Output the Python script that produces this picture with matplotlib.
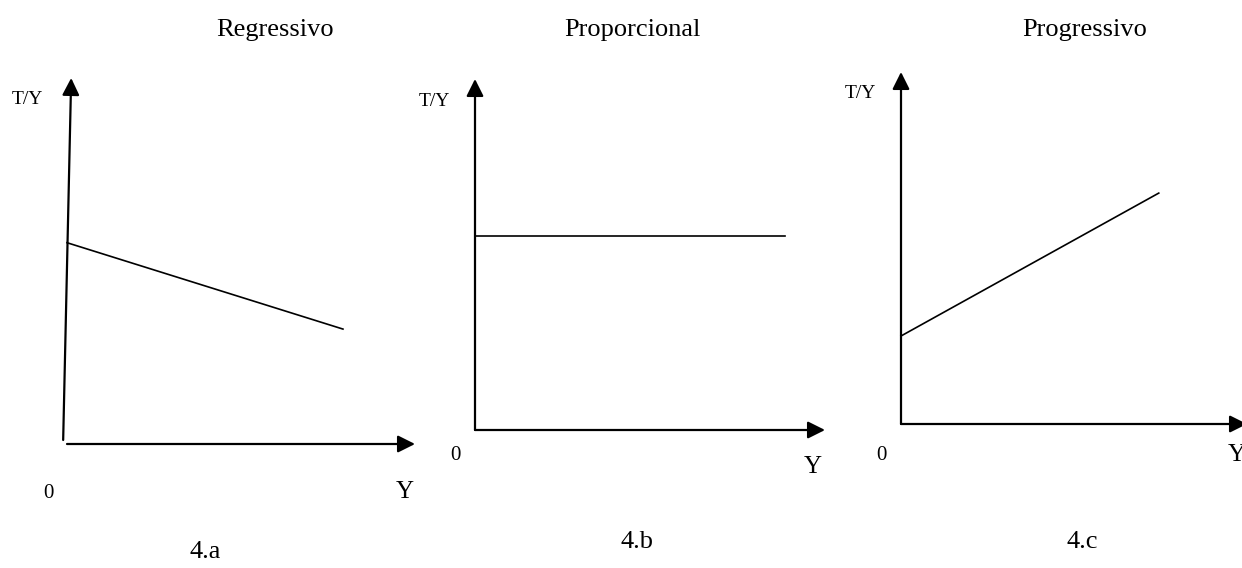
import matplotlib
matplotlib.use("Agg")
import matplotlib.pyplot as plt

plt.rcParams["font.family"] = ["Liberation Serif", "DejaVu Serif"]

W, H = 1242, 568

# panel titles and captions
titles = ["Regressivo", "Proporcional", "Progressivo"]
captions = ["4.a", "4.b", "4.c"]

# T/Y line of each panel (x in units of Y, 0..10 = arrow tip)
line_x = [[0.0, 7.93], [0.0, 8.85], [0.0, 7.45]]
line_y = [[5.50, 3.14], [5.54, 5.54], [2.50, 6.56]]

# vertical axis of panel a is drawn slightly slanted
vaxis_x = [[-0.11, 0.12], [0.0, 0.0], [0.0, 0.0]]
vaxis_y0 = [0.11, 0.0, 0.0]

# panel frames in pixels: origin x, origin y, x-tip, y-tip
frames = [(67, 444, 415, 78), (475, 430, 825, 79), (901, 424, 1247, 72)]

# label positions in pixels
title_pos = [(275, 30), (632, 30), (1085, 30)]
caption_pos = [(205, 552), (637, 542), (1082, 542)]
ty_pos = [(27, 100), (434, 101), (860, 94)]
zero_pos = [(48, 493), (455, 455), (881, 455)]
ylab_pos = [(405, 492), (813, 467), (1237, 455)]

fig = plt.figure(figsize=(W / 100, H / 100), dpi=100)


def fx(x):
    return x / W


def fy(y):
    return 1 - y / H


arrow = dict(arrowstyle="-|>", mutation_scale=26, lw=1.6, color="black",
             shrinkA=0, shrinkB=0)

for i in range(3):
    ox, oy, xt, yt = frames[i]
    ax = fig.add_axes([fx(ox), fy(oy), (xt - ox) / W, (oy - yt) / H])
    ax.set_xlim(0, 10)
    ax.set_ylim(0, 10)
    ax.axis("off")

    # axes with arrow heads
    ax.annotate("", xy=(vaxis_x[i][1], 10), xytext=(vaxis_x[i][0], vaxis_y0[i]),
                arrowprops=arrow, annotation_clip=False)
    ax.annotate("", xy=(10, 0), xytext=(0, 0),
                arrowprops=arrow, annotation_clip=False)

    # tax rate line
    ax.plot(line_x[i], line_y[i], color="black", lw=1.2, clip_on=False)

    fig.text(fx(title_pos[i][0]), fy(title_pos[i][1]), titles[i],
             fontsize=19, ha="center", va="center")
    fig.text(fx(caption_pos[i][0]), fy(caption_pos[i][1]), captions[i],
             fontsize=19, ha="center", va="center")
    fig.text(fx(ty_pos[i][0]), fy(ty_pos[i][1]), "T/Y",
             fontsize=14, ha="center", va="center")
    fig.text(fx(zero_pos[i][0]), fy(zero_pos[i][1]), "0",
             fontsize=15, ha="center", va="center")
    fig.text(fx(ylab_pos[i][0]), fy(ylab_pos[i][1]), "Y",
             fontsize=18, ha="center", va="center")

fig.savefig("out.png", dpi=100, facecolor="white")
